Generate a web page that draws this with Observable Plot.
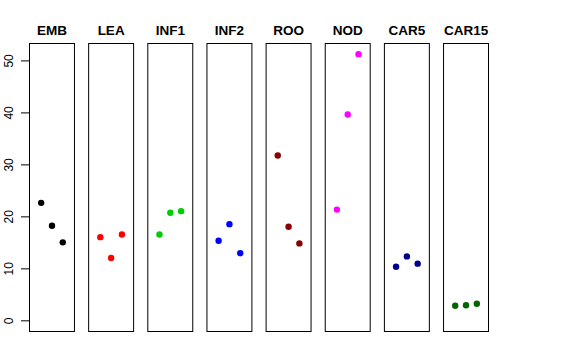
<!DOCTYPE html>
<html>
<head>
<meta charset="utf-8">
<script src="https://cdn.jsdelivr.net/npm/d3@7"></script>
<script src="https://cdn.jsdelivr.net/npm/@observablehq/plot@0.6"></script>
<style>
  html, body { margin: 0; padding: 0; background: #fff; }
</style>
</head>
<body>
<div id="chart"></div>
<script>
const tissues = ["EMB", "LEA", "INF1", "INF2", "ROO", "NOD", "CAR5", "CAR15"];
const colors = ["#000000", "#FF0000", "#00CD00", "#0000FF", "#8B0000", "#FF00FF", "#00008B", "#006400"];
const replicate = [1, 2, 3];
const EMB = [22.7, 18.3, 15.1];
const LEA = [16.1, 12.1, 16.6];
const INF1 = [16.6, 20.8, 21.1];
const INF2 = [15.4, 18.6, 13.0];
const ROO = [31.8, 18.1, 14.9];
const NOD = [21.4, 39.7, 51.3];
const CAR5 = [10.4, 12.4, 11.0];
const CAR15 = [2.9, 3.0, 3.3];
const yTicks = [0, 10, 20, 30, 40, 50];

const series = {EMB, LEA, INF1, INF2, ROO, NOD, CAR5, CAR15};
const data = tissues.flatMap(t => series[t].map((v, i) => ({tissue: t, rep: replicate[i], value: v})));

const chart = Plot.plot({
  width: 576,
  height: 360,
  marginLeft: 29,
  marginRight: 88,
  marginTop: 43,
  marginBottom: 29,
  style: {fontFamily: "'Liberation Sans', Arial, Helvetica, sans-serif", background: "#fff", color: "#000"},
  fx: {domain: tissues, paddingInner: 0.24, paddingOuter: 0, round: false, label: null},
  x: {domain: [-0.08, 4.08], axis: null},
  y: {domain: [-2.05, 53.35], axis: null},
  color: {domain: tissues, range: colors},
  marks: [
    Plot.frame({stroke: "#000", strokeWidth: 1}),
    Plot.axisFx({anchor: "top", tickSize: 0, tickPadding: 9, fontSize: 13.5, fontWeight: "bold", label: null}),
    Plot.axisY({ticks: yTicks, tickSize: 8, tickPadding: 9, tickRotate: -90, fontSize: 12, label: null, stroke: "#000"}),
    Plot.dot(data, {fx: "tissue", x: "rep", y: "value", fill: "tissue", r: 3.2, stroke: null})
  ]
});
document.getElementById("chart").appendChild(chart);
</script>
</body>
</html>
